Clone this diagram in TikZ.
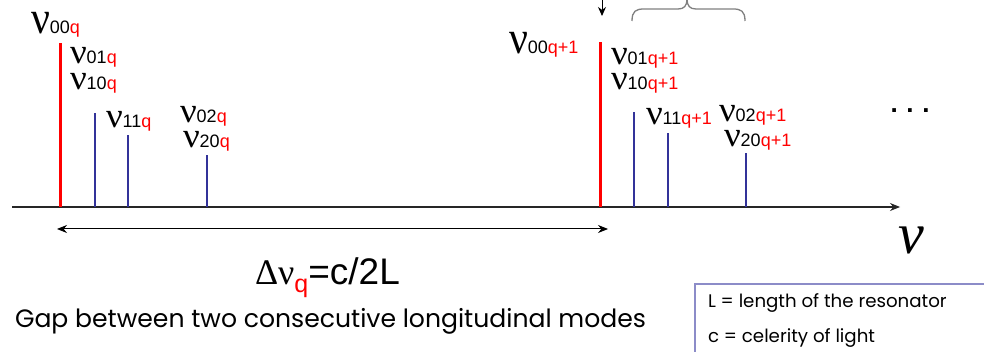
\documentclass[tikz,border=0pt]{standalone}
\usepackage{fontspec}
\setmainfont{Liberation Sans}
\newfontfamily\grkfont{Liberation Serif}
\newfontfamily\gothfont{Poppins}
\usetikzlibrary{arrows.meta}
\definecolor{specred}{HTML}{FF0000}
\definecolor{specblue}{HTML}{333399}
\definecolor{bracegray}{HTML}{808080}
\definecolor{boxline}{HTML}{8C8CC8}
\newcommand\nuL{\scalebox{0.95}[1.05]{\fontsize{44}{44}\selectfont\grkfont ν}}
\newcommand\nuS{\scalebox{1}[0.95]{\fontsize{37}{37}\selectfont\grkfont ν}}
\newcommand\modesub[2]{{\fontsize{18}{18}\selectfont #1\textcolor{specred}{#2}}}
\tikzset{
  lbl/.style={anchor=base west, inner sep=0pt, outer sep=0pt},
  modelbl/.style={lbl, text height=14pt, text depth=2pt},
  redline/.style={draw=specred, line width=3pt},
  blueline/.style={draw=specblue, line width=2.6pt},
  axisline/.style={draw=black!85, line width=1.1pt, -{Stealth[length=10pt,width=8pt]}},
  dimline/.style={draw=black, line width=1pt, {Stealth[length=10pt,width=8pt]}-{Stealth[length=10pt,width=8pt]}},
}
\begin{document}
\begin{tikzpicture}[x=1pt,y=-1pt]
\clip (0,0) rectangle (984,352);
\fill[white] (0,0) rectangle (984,352);
% axis
\coordinate (ax0) at (12,207);
\coordinate (ax1) at (900,207);
\draw[axisline] (ax0) -- (ax1);
% group q
\draw[redline] (60,207) -- (60,43);
\draw[blueline] (95,207) -- (95,113);
\draw[blueline] (128,207) -- (128,135);
\draw[blueline] (207,207) -- (207,155);
% group q+1
\draw[redline] (600,207) -- (600,42);
\draw[blueline] (634,207) -- (634,112);
\draw[blueline] (668,207) -- (668,133);
\draw[blueline] (746,207) -- (746,153);
% labels q
\node[modelbl] (l00a) at (31,34) {\nuL\modesub{00}{q}};
\node[modelbl] (l01a) at (70,64) {\nuS\modesub{01}{q}};
\node[modelbl] (l10a) at (70,90) {\nuS\modesub{10}{q}};
\node[modelbl] (l11a) at (106,128) {\nuS\modesub{11}{q}};
\node[modelbl] (l02a) at (180,123) {\nuS\modesub{02}{q}};
\node[modelbl] (l20a) at (183,148) {\nuS\modesub{20}{q}};
% labels q+1
\node[modelbl] (l00b) at (509,54) {\nuL\modesub{00}{q+1}};
\node[modelbl] (l01b) at (611,65) {\nuS\modesub{01}{q+1}};
\node[modelbl] (l10b) at (611,90) {\nuS\modesub{10}{q+1}};
\node[modelbl] (l11b) at (646,125) {\nuS\modesub{11}{q+1}};
\node[modelbl] (l02b) at (719,122) {\nuS\modesub{02}{q+1}};
\node[modelbl] (l20b) at (724,147) {\nuS\modesub{20}{q+1}};
% dots
\node[inner sep=0pt] (dots) at (910,111) {\fontsize{26}{26}\selectfont\bfseries .\,\,.\,\,.};
% top arrow
\coordinate (ta0) at (602,-2);
\coordinate (ta1) at (602,16);
\draw[black, line width=1pt, -{Stealth[length=9pt,width=8pt]}] (ta0) -- (ta1);
% brace
\draw[bracegray, line width=1.3pt] (632,21) .. controls (632,11) and (636,9) .. (644,9) -- (678,9) .. controls (684,9) and (687,6) .. (687,-1);
\draw[bracegray, line width=1.3pt] (687,-1) .. controls (687,6) and (690,9) .. (696,9) -- (733,9) .. controls (741,9) and (745,11) .. (745,21);
% big nu
\node[inner sep=0pt] (nuaxis) at (911,240) {\fontsize{58}{58}\selectfont\grkfont\itshape ν};
% dimension arrow
\coordinate (d0) at (57,229);
\coordinate (d1) at (608,229);
\draw[dimline] (d0) -- (d1);
\node[lbl] (formula) at (255,284) {{\fontsize{36}{36}\selectfont\grkfont Δν}\raisebox{-9pt}{\fontsize{25}{25}\selectfont\textcolor{specred}{q}}{\fontsize{37}{37}\selectfont =c/2L}};
\node[lbl] (gap) at (15,327) {\fontsize{25.1}{25}\selectfont\gothfont Gap between two consecutive longitudinal modes};
% legend box
\draw[boxline, line width=1.2pt] (695,370) |- (1000,284);
\node[lbl] (legL) at (708,307) {\fontsize{18.2}{18}\selectfont\gothfont L = length of the resonator};
\node[lbl] (legc) at (708,342) {\fontsize{18.2}{18}\selectfont\gothfont c = celerity of light};
\end{tikzpicture}
\end{document}
